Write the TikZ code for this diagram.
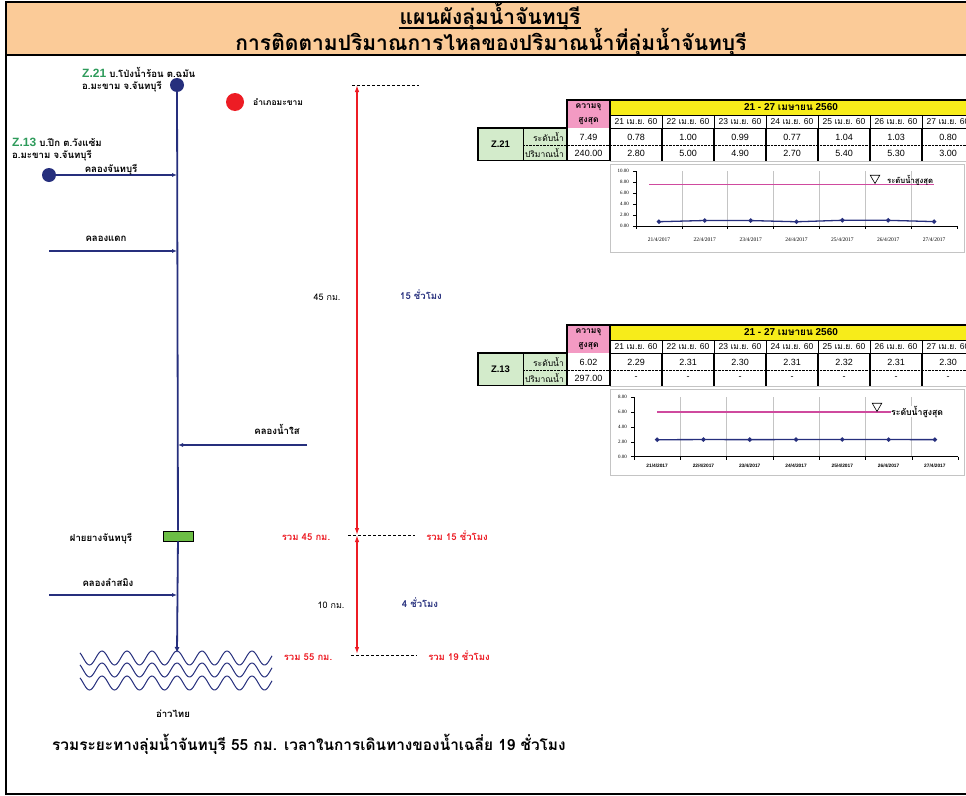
\documentclass[tikz,border=0pt]{standalone}
\usepackage{fontspec}
\setmainfont{Liberation Sans}
\newfontfamily\thaifont[Script=Thai]{Loma}
\newfontfamily\tnrfont{Liberation Serif}
\usetikzlibrary{arrows.meta, shapes.geometric, positioning}
\definecolor{navy}{HTML}{262F7D}
\definecolor{rred}{HTML}{ED1C24}
\definecolor{zgreen}{HTML}{2E9B5B}
\definecolor{headbg}{HTML}{FBCB98}
\definecolor{cappink}{HTML}{F39AC3}
\definecolor{wkyellow}{HTML}{F7EC1A}
\definecolor{cellgreen}{HTML}{D3EBCB}
\definecolor{weirgreen}{HTML}{6CBE45}
\definecolor{maxpink}{HTML}{CF4A9E}
\definecolor{gridgray}{HTML}{C4C4C4}

\tikzset{
  lbl/.style={font=\thaifont\bfseries\fontsize{9.6}{11}\selectfont, anchor=base},
  redlbl/.style={lbl, text=rred, font=\thaifont\bfseries\fontsize{9.5}{11}\selectfont},
  bluelbl/.style={lbl, text=navy, font=\thaifont\bfseries\fontsize{9.5}{11}\selectfont},
  title/.style={font=\thaifont\bfseries\fontsize{21}{23}\selectfont, anchor=base},
  station/.style={circle, fill=navy, minimum size=14pt},
  amphoe/.style={circle, fill=rred, minimum size=18pt},
  river/.style={navy, line width=1.8pt},
  trib/.style={navy, line width=1.3pt, -{Latex[length=5pt,width=4pt]}},
  distspan/.style={draw=rred, line width=1.3pt, {Latex[length=7pt,width=4.5pt]}-{Latex[length=7pt,width=4.5pt]}},
  levelmark/.style={draw=black, dash pattern=on 3pt off 2pt, line width=0.6pt},
  wave/.style={navy, line width=1pt},
  cell/.style={font=\fontsize{9}{10}\selectfont},
  thcell/.style={font=\thaifont\fontsize{8.5}{10}\selectfont},
  axlbl/.style={font=\tnrfont\fontsize{5}{6}\selectfont},
  dmark/.style={diamond, fill=navy, minimum size=5pt},
  legtri/.style={regular polygon, regular polygon sides=3, shape border rotate=180, draw, line width=0.6pt, minimum size=11pt}
}

\begin{document}
\begin{tikzpicture}[x=1pt, y=-1pt, every node/.style={inner sep=0pt}]
\useasboundingbox (0,0) rectangle (966,795);
\clip (0,0) rectangle (966,795);
\fill[white] (0,0) rectangle (966,795);

% header
\fill[headbg] (6,2) rectangle (1000,55);
\draw[line width=1.8pt] (6,2) rectangle (1000,794);
\draw[line width=1.8pt] (6,55) -- (1000,55);
\node[title] (title1) at (490,24.5) {แผนผังลุ่มน้ำจันทบุรี};
\draw[line width=2pt] ([yshift=-3.5pt]title1.base west) -- ([yshift=-3.5pt]title1.base east);
\node[title] (title2) at (491,50) {การติดตามปริมาณการไหลของปริมาณน้ำที่ลุ่มน้ำจันทบุรี};

% stations
\node[station] (z21) at (177,85) {};
\node[lbl, anchor=base west] (z21a) at (82,77) {{\color{zgreen}\fontspec{Liberation Sans}\bfseries\fontsize{12}{12}\selectfont Z.21} บ.โป่งน้ำร้อน ต.ฉมัน};
\node[lbl, anchor=base west] (z21b) at (82,89.5) {อ.มะขาม จ.จันทบุรี};
\node[station] (z13) at (49,175) {};
\node[lbl, anchor=base west] (z13a) at (12,146.5) {{\color{zgreen}\fontspec{Liberation Sans}\bfseries\fontsize{12}{12}\selectfont Z.13} บ.ปึก ต.วังแซ้ม};
\node[lbl, anchor=base west] (z13b) at (12,158.5) {อ.มะขาม จ.จันทบุรี};
\node[amphoe] (mk) at (235,102) {};
\node[lbl, anchor=west, font=\thaifont\bfseries\fontsize{8.5}{10}\selectfont] (mklbl) at (253,102) {อำเภอมะขาม};

% river and tributaries
\coordinate (j1) at (177,175);
\coordinate (j2) at (177,251);
\coordinate (s2) at (49,251);
\coordinate (j3) at (178,445);
\coordinate (s3) at (307,445);
\coordinate (j4) at (177,595);
\coordinate (s4) at (49,595);
\coordinate (mouth) at (177,653);
\node[draw, fill=weirgreen, minimum width=30pt, minimum height=10pt, line width=0.7pt] (weir) at (178,536) {};
\draw[river] (z21) -- (weir);
\draw[river, -{Latex[length=6pt,width=5pt]}] (weir) -- (mouth);
\draw[trib] (z13) -- (j1);
\draw[trib] (s2) -- (j2);
\draw[trib] (s3) -- (j3);
\draw[trib] (s4) -- (j4);
\node[lbl] (k1) at (111,172) {คลองจันทบุรี};
\node[lbl] (k2) at (106,241) {คลองแดก};
\node[lbl] (k3) at (277,434) {คลองน้ำใส};
\node[lbl] (k4) at (108,586) {คลองลำสมิง};
\node[lbl] (weirlbl) at (101,541) {ฝายยางจันทบุรี};

% sea
\foreach \c in {658,670,683}
  \draw[wave] plot[domain=80:272, samples=140, smooth] (\x, {\c-7*cos(14.4*(\x-177))});
\node[lbl] (sea) at (173,717) {อ่าวไทย};
\node[lbl, font=\thaifont\bfseries\fontsize{15.4}{17}\selectfont, anchor=base west] (total) at (52,750) {รวมระยะทางลุ่มน้ำจันทบุรี 55 กม. เวลาในการเดินทางของน้ำเฉลี่ย 19 ชั่วโมง};

% distance and time
\coordinate (m0) at (357,85);
\coordinate (m1) at (357,535);
\coordinate (m2) at (357,654);
\coordinate (d0a) at (352,85);  \coordinate (d0b) at (419,85);
\coordinate (d1a) at (348,535); \coordinate (d1b) at (415,535);
\coordinate (d2a) at (351,655); \coordinate (d2b) at (417,655);
\draw[levelmark] (d0a) -- (d0b);
\draw[levelmark] (d1a) -- (d1b);
\draw[levelmark] (d2a) -- (d2b);
\draw[distspan] (m0) -- (m1);
\draw[distspan] (m1) -- (m2);
\node[lbl, font=\thaifont\fontsize{9}{10}\selectfont] (km45) at (327,300) {45 กม.};
\node[bluelbl] (hr15) at (421,299) {15 ชั่วโมง};
\node[redlbl] (sum45) at (306,540) {รวม 45 กม.};
\node[redlbl] (sum15) at (457,540) {รวม 15 ชั่วโมง};
\node[lbl, font=\thaifont\fontsize{9}{10}\selectfont] (km10) at (331,608) {10 กม.};
\node[bluelbl] (hr4) at (420,607) {4 ชั่วโมง};
\node[redlbl] (sum55) at (308,660) {รวม 55 กม.};
\node[redlbl] (sum19) at (459,660) {รวม 19 ชั่วโมง};

% gauge tables
\foreach \tid/\gname/\oy/\capl/\capq/\lvs/\qvs in {
  za/Z.21/0/7.49/240.00/{0.78,1.00,0.99,0.77,1.04,1.03,0.80}/{2.80,5.00,4.90,2.70,5.40,5.30,3.00},
  zb/Z.13/225/6.02/297.00/{2.29,2.31,2.30,2.31,2.32,2.31,2.30}/{-,-,-,-,-,-,-}}{
  \begin{scope}[shift={(0,\oy)}]
    \fill[cappink] (567,100) rectangle (610,128);
    \fill[wkyellow] (610,100) rectangle (990,115);
    \fill[cellgreen] (478,128) rectangle (567,160.5);
    \foreach \d in {0,...,6}{
      \pgfmathtruncatemacro\dd{21+\d}
      \draw[line width=0.5pt] ({610+52*\d},115) rectangle ++(52,13);
      \node[cell, font=\fontsize{8.5}{10}\selectfont] (\tid d\d) at ({636+52*\d},121.5) {\dd\ {\thaifont เม.ย.} 60};
    }
    \foreach \d in {0,...,7}
      \draw[line width=1.2pt] ({610+52*\d},128) -- ({610+52*\d},160.5);
    \draw[line width=0.8pt, dash pattern=on 0.7pt off 0.7pt] (523,145) -- (990,145);
    \draw[gridgray, line width=0.8pt] (610,161.6) -- (990,161.6);
    \draw[line width=0.6pt] (610,115) -- (990,115);
    \draw[line width=0.8pt] (610,128) -- (990,128);
    \draw[line width=1.6pt] (610,100) -- (990,100);
    \draw[line width=1.6pt] (478,128) rectangle (567,160.5);
    \draw[line width=0.8pt] (523,128) -- (523,160.5);
    \draw[line width=1.6pt] (567,100) rectangle (610,160.5);
    \node[thcell, font=\thaifont\bfseries\fontsize{8.5}{10}\selectfont] (\tid c1) at (588.5,107.5) {ความจุ};
    \node[thcell, font=\thaifont\bfseries\fontsize{8.5}{10}\selectfont] (\tid c2) at (588.5,121.5) {สูงสุด};
    \node[font=\bfseries\fontsize{10}{10}\selectfont] (\tid wk) at (791,107.5) {21 - 27 {\thaifont เมษายน} 2560};
    \node[font=\bfseries\fontsize{9.5}{10}\selectfont] (\tid g) at (500.5,144) {\gname};
    \node[thcell, anchor=east] (\tid r1) at (564,137) {ระดับน้ำ};
    \node[thcell, anchor=east] (\tid r2) at (564,153) {ปริมาณน้ำ};
    \node[cell] (\tid cl) at (588.5,137) {\capl};
    \node[cell] (\tid cq) at (588.5,153) {\capq};
    \foreach \v [count=\i] in \lvs
      \node[cell] (\tid l\i) at ({584+52*\i},137) {\v};
    \foreach \v [count=\i] in \qvs
      \node[cell] (\tid q\i) at ({584+52*\i},153) {\v};
  \end{scope}
}

% chart Z.21
\draw[gridgray, line width=0.7pt] (610,164) rectangle (964,252);
\foreach \k in {1,...,6}
  \draw[gridgray, line width=0.7pt] ({636+45.86*\k},171) -- ({636+45.86*\k},226);
\foreach \k in {0,...,7}
  \draw[line width=0.5pt] ({636+45.86*\k},226) -- ({636+45.86*\k},229);
\draw[line width=0.9pt] (636,171) -- (636,226) -- (957,226);
\foreach \t/\s in {0/0.00,2/2.00,4/4.00,6/6.00,8/8.00,10/10.00}{
  \draw[line width=0.5pt] (633,{226-5.5*\t}) -- (636,{226-5.5*\t});
  \node[axlbl, anchor=east] (ya\t) at (629,{226-5.5*\t}) {\s};
}
\foreach \s [count=\i] in {21,...,27}
  \node[axlbl, font=\tnrfont\fontsize{5.5}{6}\selectfont] (xa\i) at ({636+45.86*(\i-0.5)},240) {\s/4/2017};
\coordinate (ca1) at (649,184.8);
\coordinate (ca2) at (934,184.8);
\draw[maxpink, line width=1.2pt] (ca1) -- (ca2);
\foreach \v [count=\i] in {0.78,1.00,0.99,0.77,1.04,1.03,0.80}
  \coordinate (pa\i) at ({636+45.86*(\i-0.5)},{226-5.5*\v});
\draw[navy, line width=1.3pt] (pa1) -- (pa2) -- (pa3) -- (pa4) -- (pa5) -- (pa6) -- (pa7);
\foreach \i in {1,...,7}
  \node[dmark] (ma\i) at (pa\i) {};
\node[legtri, fill=white] (la) at (875,178) {};
\node[lbl, anchor=base west, font=\thaifont\bfseries\fontsize{7.7}{9}\selectfont] (lta) at (887,183) {ระดับน้ำสูงสุด};

% chart Z.13
\draw[gridgray, line width=0.7pt] (610,389) rectangle (964,475);
\foreach \k in {1,...,6}
  \draw[gridgray, line width=0.7pt] ({634+46.29*\k},397) -- ({634+46.29*\k},456.7);
\foreach \k in {0,...,7}
  \draw[line width=0.5pt] ({634+46.29*\k},456.7) -- ({634+46.29*\k},459.7);
\draw[line width=0.9pt] (634,397) -- (634,456.7) -- (958,456.7);
\foreach \t/\s in {0/0.00,2/2.00,4/4.00,6/6.00,8/8.00}{
  \draw[line width=0.5pt] (631,{456.7-7.42*\t}) -- (634,{456.7-7.42*\t});
  \node[axlbl, anchor=east] (yb\t) at (627,{456.7-7.42*\t}) {\s};
}
\foreach \s [count=\i] in {21,...,27}
  \node[axlbl, font=\bfseries\fontsize{4.8}{5}\selectfont] (xb\i) at ({634+46.29*(\i-0.5)},465.7) {\s/4/2017};
\coordinate (cb1) at (657,412);
\coordinate (cb2) at (935,412);
\draw[maxpink, line width=1.2pt] (cb1) -- (cb2);
\foreach \v [count=\i] in {2.29,2.31,2.30,2.31,2.32,2.31,2.30}
  \coordinate (pb\i) at ({634+46.29*(\i-0.5)},{456.7-7.42*\v});
\draw[navy, line width=1.3pt] (pb1) -- (pb2) -- (pb3) -- (pb4) -- (pb5) -- (pb6) -- (pb7);
\foreach \i in {1,...,7}
  \node[dmark] (mb\i) at (pb\i) {};
\node[legtri, fill=white] (lb) at (877,406) {};
\node[lbl, anchor=base west, font=\thaifont\bfseries\fontsize{8.7}{10}\selectfont, fill=white] (ltb) at (891,415) {ระดับน้ำสูงสุด};
\end{tikzpicture}
\end{document}
